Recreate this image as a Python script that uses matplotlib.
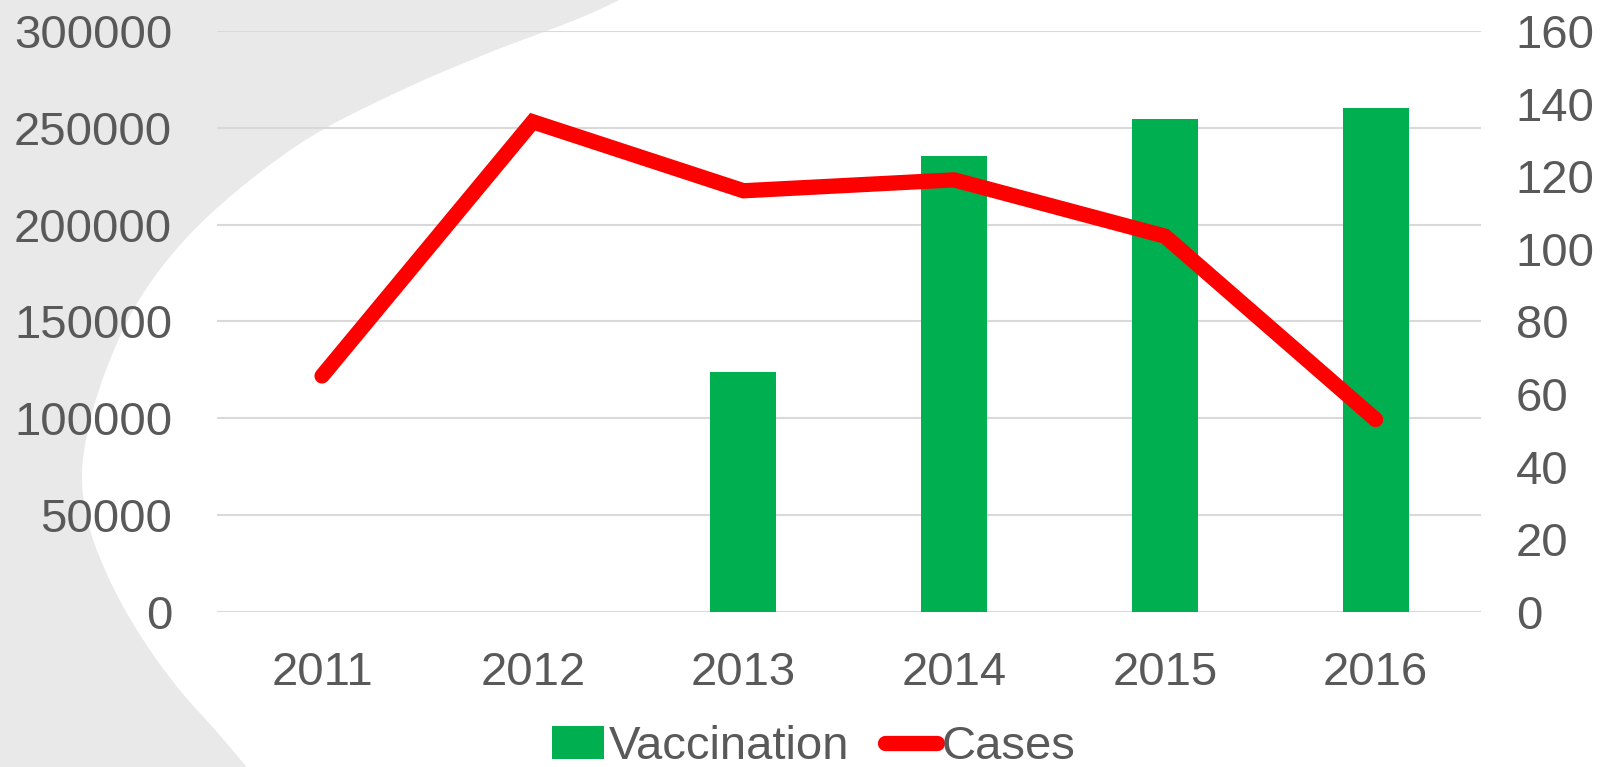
import matplotlib
matplotlib.use("Agg")
import matplotlib.pyplot as plt
import numpy as np
from matplotlib.patches import Rectangle, Polygon

plt.rcParams['font.family'] = ['Liberation Sans', 'DejaVu Sans']

years = ['2011', '2012', '2013', '2014', '2015', '2016']
vaccination = [0, 0, 124000, 235500, 254500, 260000]
cases = [65, 135, 116, 119, 103.5, 53]

grey_txt = '#595959'
W, H = 1611, 767

fig = plt.figure(figsize=(W / 100, H / 100), dpi=100)

# decorative background: grey sheet, white swoosh over it
edge = np.array([(640, -10), (580, 18), (491, 52), (402, 90), (312, 136), (238, 190),
                 (180, 245), (136, 305), (106, 370), (88, 430), (82, 480), (90, 530),
                 (112, 585), (142, 638), (178, 688), (217, 732), (255, 777)], float)


def smooth(pts, n=12):
    # catmull-rom through the outline points
    p = np.vstack([pts[0], pts, pts[-1]])
    out = []
    for i in range(1, len(p) - 2):
        p0, p1, p2, p3 = p[i - 1], p[i], p[i + 1], p[i + 2]
        for t in np.linspace(0, 1, n, endpoint=False):
            out.append(0.5 * ((2 * p1) + (-p0 + p2) * t + (2 * p0 - 5 * p1 + 4 * p2 - p3) * t ** 2
                              + (-p0 + 3 * p1 - 3 * p2 + p3) * t ** 3))
    out.append(p[-2])
    return np.array(out)


outline = smooth(edge)
outline = np.vstack([outline, [(W + 10, H + 10), (W + 10, -10)]])
outline = np.column_stack([outline[:, 0] / W, 1 - outline[:, 1] / H])

fig.patches.append(Rectangle((0, 0), 1, 1, transform=fig.transFigure,
                             facecolor='#e9e9e9', edgecolor='none', zorder=-10))
fig.patches.append(Polygon(outline, closed=True, transform=fig.transFigure,
                           facecolor='white', edgecolor='none', zorder=-9))

ax = fig.add_axes([0.1345, 0.2021, 0.7848, 0.7575])
ax.patch.set_visible(False)
x = list(range(len(years)))

bars = ax.bar(x, vaccination, width=0.313, color='#00b050', label='Vaccination', zorder=2)
ax.set_xlim(-0.5, 5.5)
ax.set_ylim(0, 300000)
ax.set_yticks(range(0, 300001, 50000))
ax.set_xticks(x)
ax.set_xticklabels(years)
ax.grid(axis='y', color='#d9d9d9', linewidth=1.5, zorder=0)
ax.set_axisbelow(True)
for s in ax.spines.values():
    s.set_visible(False)
ax.tick_params(length=0, labelsize=34, labelcolor=grey_txt)
ax.tick_params(axis='y', pad=32)
ax.tick_params(axis='x', pad=28)

ax2 = ax.twinx()
ln, = ax2.plot(x, cases, color='#ff0000', linewidth=11, solid_capstyle='round',
               solid_joinstyle='miter', label='Cases', zorder=3)
ax2.set_ylim(0, 160)
ax2.set_yticks(range(0, 161, 20))
for s in ax2.spines.values():
    s.set_visible(False)
ax2.tick_params(length=0, labelsize=34, labelcolor=grey_txt, pad=25)

leg = fig.legend([bars, ln], ['Vaccination', 'Cases'], loc='center',
                 bbox_to_anchor=(0.505, 0.026), ncol=2, frameon=False,
                 fontsize=34, handlelength=1.1, handletextpad=0.1,
                 columnspacing=0.75, labelcolor=grey_txt, borderpad=0.1)

fig.savefig('out.png', dpi=100)
